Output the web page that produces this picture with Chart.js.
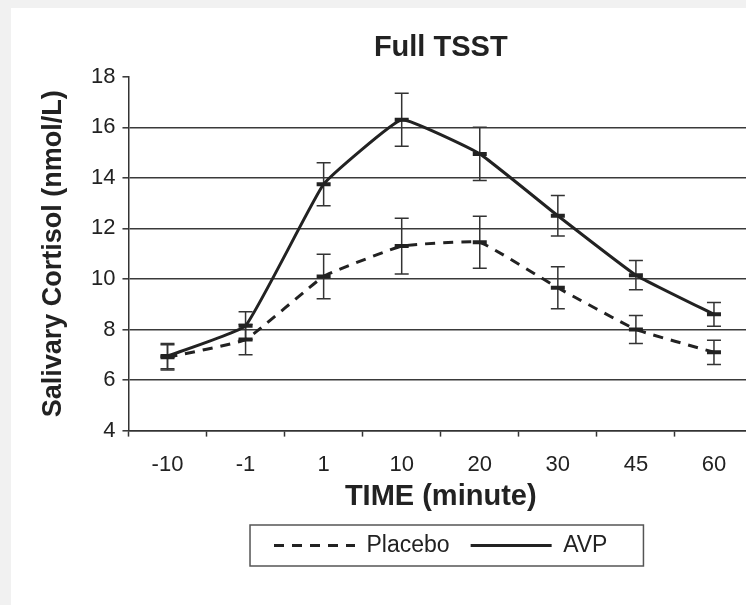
<!DOCTYPE html>
<html>
<head>
<meta charset="utf-8">
<script src="https://cdn.jsdelivr.net/npm/chart.js@4/dist/chart.umd.min.js"></script>
<style>
  html, body { margin: 0; padding: 0; background: #f1f1f1; overflow: hidden; }
  #wrap { position: absolute; left: 11px; top: 8px; width: 753px; height: 597px; background: #fff; }
</style>
</head>
<body>
<div id="wrap"><canvas id="cortisolChart" width="753" height="597"></canvas></div>
<script>
// Temps (minutes)
const timeLabels = ['-10', '-1', '1', '10', '20', '30', '45', '60'];

// Cortisol salivaire (nmol/L)
const placeboValues = [6.9, 7.6, 10.1, 11.3, 11.45, 9.65, 8.0, 7.1];
const placeboErrors = [0.5, 0.6, 0.88, 1.1, 1.03, 0.83, 0.55, 0.48];
const avpValues = [6.95, 8.15, 13.75, 16.3, 14.95, 12.5, 10.15, 8.6];
const avpErrors = [0.5, 0.55, 0.85, 1.05, 1.05, 0.8, 0.58, 0.47];

const ink = '#222';
Chart.defaults.font.family = "'Liberation Sans', Arial, sans-serif";
Chart.defaults.color = ink;

// Barres d'erreur
const errorBars = {
  id: 'errorBars',
  beforeDatasetsDraw(chart) {
    const ctx = chart.ctx;
    const y = chart.scales.y;
    ctx.save();
    ctx.strokeStyle = '#333';
    ctx.lineWidth = 1.5;
    chart.data.datasets.forEach((ds, i) => {
      const meta = chart.getDatasetMeta(i);
      meta.data.forEach((pt, j) => {
        const top = y.getPixelForValue(ds.data[j] + ds.errors[j]);
        const bot = y.getPixelForValue(ds.data[j] - ds.errors[j]);
        ctx.beginPath();
        ctx.moveTo(pt.x, top); ctx.lineTo(pt.x, bot);
        ctx.moveTo(pt.x - 7, top); ctx.lineTo(pt.x + 7, top);
        ctx.moveTo(pt.x - 7, bot); ctx.lineTo(pt.x + 7, bot);
        ctx.stroke();
      });
    });
    ctx.restore();
  }
};

// Cadre de la légende
const legendFrame = {
  id: 'legendFrame',
  afterDraw(chart) {
    const boxes = chart.legend.legendHitBoxes;
    if (!boxes || !boxes.length) return;
    const first = boxes[0], last = boxes[boxes.length - 1];
    const cy = first.top + first.height / 2;
    const ctx = chart.ctx;
    ctx.save();
    ctx.strokeStyle = '#555';
    ctx.lineWidth = 1.5;
    ctx.strokeRect(first.left - 24, cy - 20.5, last.left + last.width + 36 - (first.left - 24), 41);
    ctx.restore();
  }
};

new Chart(document.getElementById('cortisolChart'), {
  type: 'line',
  data: {
    labels: timeLabels,
    datasets: [
      {
        label: 'Placebo',
        data: placeboValues,
        errors: placeboErrors,
        borderColor: ink,
        backgroundColor: ink,
        borderWidth: 3,
        borderDash: [10, 8],
        tension: 0.1,
        pointStyle: 'line',
        pointRadius: 7,
        pointBorderWidth: 4,
        pointBorderColor: ink
      },
      {
        label: 'AVP',
        data: avpValues,
        errors: avpErrors,
        borderColor: ink,
        backgroundColor: ink,
        borderWidth: 3,
        tension: 0.1,
        pointStyle: 'line',
        pointRadius: 7,
        pointBorderWidth: 4,
        pointBorderColor: ink
      }
    ]
  },
  options: {
    responsive: false,
    animation: false,
    layout: { padding: { left: 0, right: 3, top: 0, bottom: 38 } },
    scales: {
      x: {
        offset: true,
        grid: { offset: true, drawOnChartArea: false, tickLength: 6, tickColor: '#333', tickWidth: 1.5 },
        border: { color: '#333', width: 1.5 },
        ticks: { font: { size: 22 }, padding: 15, color: ink },
        title: { display: true, text: 'TIME (minute)', font: { size: 29, weight: 'bold', lineHeight: 1 }, padding: { top: -11, bottom: 2 }, color: ink }
      },
      y: {
        min: 4,
        max: 18,
        ticks: { stepSize: 2, font: { size: 22 }, padding: 7, color: ink },
        grid: {
          color: c => (c.tick && c.tick.value === 18 ? 'rgba(0,0,0,0)' : '#3a3a3a'),
          lineWidth: 1.6,
          tickLength: 6,
          tickColor: '#333',
          tickWidth: 1.5
        },
        border: { color: '#333', width: 1.5 },
        title: { display: true, text: 'Salivary Cortisol (nmol/L)', font: { size: 27, weight: 'bold', lineHeight: 1 }, padding: { top: 29, bottom: 17 }, color: ink }
      }
    },
    plugins: {
      title: {
        display: true,
        text: 'Full TSST',
        fullSize: false,
        font: { size: 29, weight: 'bold' },
        padding: { top: 23, bottom: 11 },
        color: ink
      },
      legend: {
        position: 'bottom',
        fullSize: false,
        labels: {
          usePointStyle: true,
          pointStyleWidth: 81,
          font: { size: 23 },
          padding: 21,
          color: ink,
          generateLabels(chart) {
            const items = Chart.defaults.plugins.legend.labels.generateLabels(chart);
            items.forEach(item => {
              const ds = chart.data.datasets[item.datasetIndex];
              item.lineDash = ds.borderDash || [];
              item.lineWidth = ds.borderWidth;
              item.strokeStyle = ds.borderColor;
            });
            return items;
          }
        }
      },
      tooltip: { enabled: false }
    }
  },
  plugins: [errorBars, legendFrame]
});
</script>
</body>
</html>
